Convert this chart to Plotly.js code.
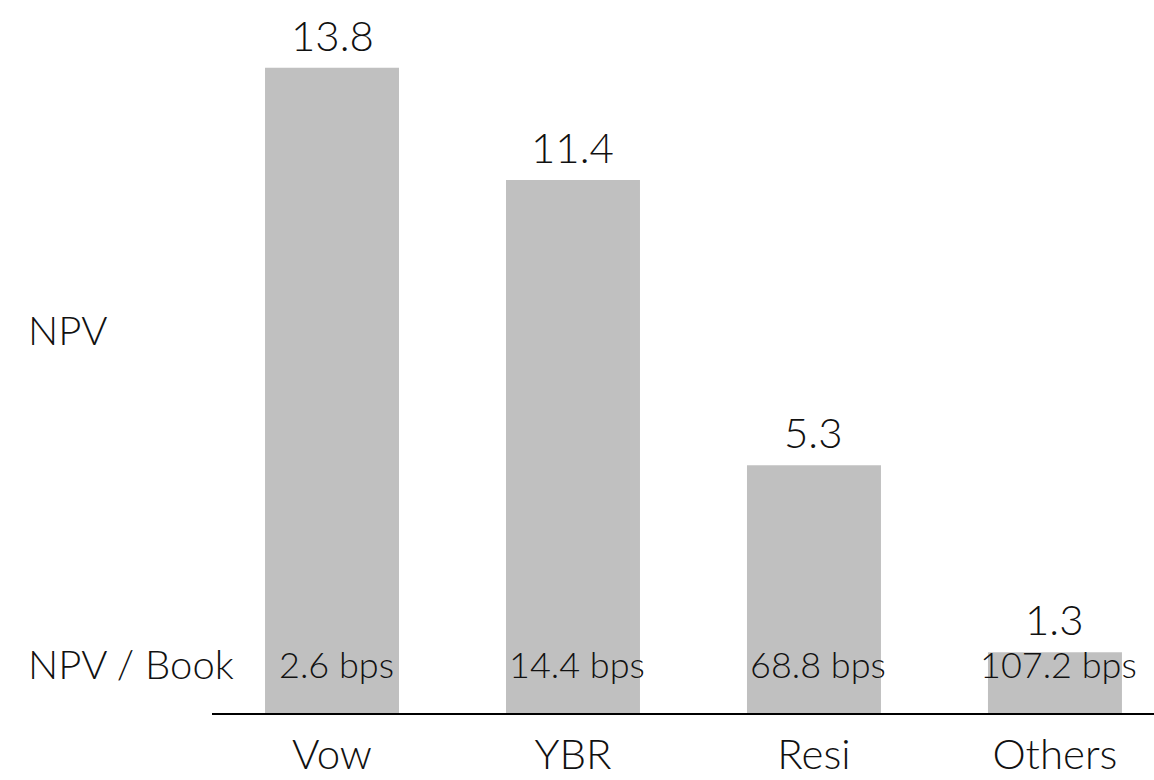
<!DOCTYPE html>
<html>
<head>
<meta charset="utf-8">
<script src="https://cdn.plot.ly/plotly-3.0.1.min.js"></script>
<style>
  html, body { margin: 0; padding: 0; background: #fff; }
  #chart { width: 1154px; height: 780px; }
</style>
</head>
<body>
<div id="chart"></div>
<script>
// Portfolio segments
const categories = ['Vow', 'YBR', 'Resi', 'Others'];
// NPV per segment
const npvValues = [13.8, 11.4, 5.3, 1.3];
// NPV / Book, in basis points
const npvBookBps = [2.6, 14.4, 68.8, 107.2];
// Row labels on the left
const rowLabels = ['NPV', 'NPV / Book'];

const FONT = 'Lato, "Open Sans", "Liberation Sans", sans-serif';
const BAR_COLOR = '#c0c0c0';
const TEXT_COLOR = '#111111';

const xIdx = categories.map((_, i) => i);

const trace = {
  type: 'bar',
  x: xIdx,
  y: npvValues,
  marker: { color: BAR_COLOR, line: { width: 0 } },
  hoverinfo: 'skip'
};

const annotations = [];

// NPV value above each bar
npvValues.forEach((v, i) => {
  annotations.push({
    x: i, y: v, xref: 'x', yref: 'y',
    text: v.toFixed(1),
    showarrow: false,
    xanchor: 'center', yanchor: 'bottom',
    yshift: 6,
    font: { family: FONT, size: 42, color: TEXT_COLOR, weight: 300 }
  });
});

// NPV / Book row, drawn over the bar bases
npvBookBps.forEach((v, i) => {
  annotations.push({
    x: i, y: 0.07, xref: 'x', yref: 'paper',
    text: v.toFixed(1) + ' bps',
    showarrow: false,
    xanchor: 'center', yanchor: 'middle',
    xshift: 4,
    font: { family: FONT, size: 36, color: TEXT_COLOR, weight: 300 }
  });
});

// Row headers
const rowY = [0.553, 0.07];
rowLabels.forEach((t, k) => {
  annotations.push({
    x: -0.197, y: rowY[k], xref: 'paper', yref: 'paper',
    text: t,
    showarrow: false,
    xanchor: 'left', yanchor: 'middle',
    font: { family: FONT, size: 40, color: TEXT_COLOR, weight: 300 }
  });
});

const layout = {
  width: 1154,
  height: 780,
  margin: { l: 212, r: 0, t: 20, b: 67, pad: 0 },
  paper_bgcolor: '#ffffff',
  plot_bgcolor: '#ffffff',
  showlegend: false,
  bargap: 0.444,
  font: { family: FONT, color: TEXT_COLOR },
  xaxis: {
    range: [-0.498, 3.411],
    tickmode: 'array',
    tickvals: xIdx,
    ticktext: categories,
    ticks: '',
    ticklabelstandoff: 4,
    showgrid: false,
    zeroline: false,
    showline: true,
    linecolor: '#000000',
    linewidth: 2,
    tickfont: { family: FONT, size: 42, color: TEXT_COLOR, weight: 300 },
    fixedrange: true
  },
  yaxis: {
    range: [0, 14.82],
    visible: false,
    showgrid: false,
    zeroline: false,
    fixedrange: true
  },
  annotations: annotations
};

Plotly.newPlot('chart', [trace], layout, { displayModeBar: false, staticPlot: true });
</script>
</body>
</html>
